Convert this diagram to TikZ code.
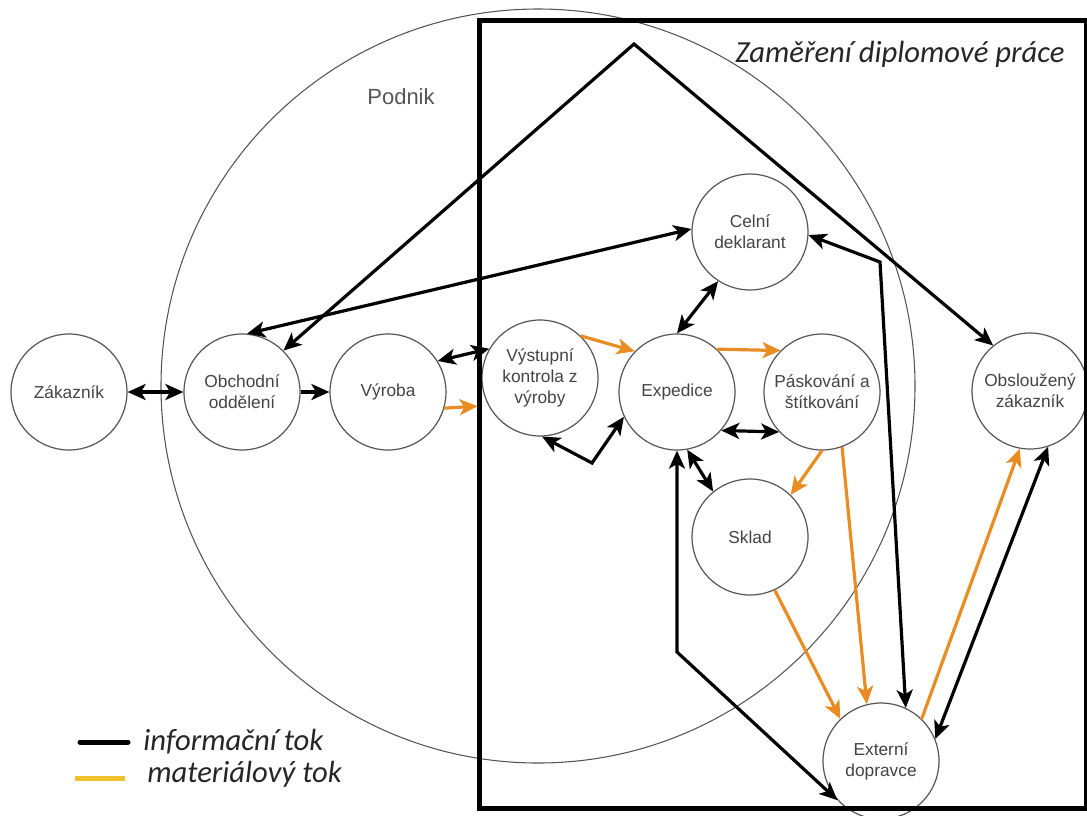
\documentclass[tikz,border=0pt]{standalone}
\usepackage{fontspec}
\setmainfont{Liberation Sans}
\newfontfamily\legendfont{Carlito}
\usetikzlibrary{arrows.meta}
\definecolor{flowor}{RGB}{232,140,35}
\definecolor{legyel}{RGB}{242,193,46}
\definecolor{txtgrey}{RGB}{68,68,68}
\definecolor{rimgrey}{RGB}{85,85,85}
\begin{document}
\begin{tikzpicture}[x=0.75pt,y=-0.75pt,
  >={Stealth[length=13.5pt,width=12pt,inset=3.5pt]},
  proc/.style={circle, draw=rimgrey, line width=0.9pt, fill=white,
    minimum size=87pt, inner sep=0pt, align=center, text=txtgrey,
    font=\fontsize{13}{15.75}\selectfont},
  info/.style={draw=black, line width=2.4pt},
  mat/.style={draw=flowor, line width=2.4pt},
  italabel/.style={anchor=base west, inner sep=0pt, text=black!85,
    font=\legendfont\itshape\fontsize{23}{26}\selectfont}]

\useasboundingbox (0,0) rectangle (1087,815);

% company boundary
\node[circle, draw=rimgrey, line width=0.8pt, minimum size=565.5pt, inner sep=0pt] (podnik) at (538,386) {};
\node[text=rimgrey, font=\fontsize{16.5}{18}\selectfont] (podniklabel) at (401,97) {Podnik};

% process nodes
\node[proc] (zak) at (69,392) {Zákazník};
\node[proc] (obch) at (242,392) {Obchodní\\oddělení};
\node[proc] (vyr) at (388,392) {Výroba};
\node[proc] (vyst) at (540,378) {Výstupní\\kontrola z\\výroby};
\node[proc] (exp) at (677,392) {Expedice};
\node[proc] (pask) at (822,392) {Páskování a\\štítkování};
\node[proc] (obsl) at (1030,391) {Obsloužený\\zákazník};
\node[proc] (celni) at (750,232) {Celní\\deklarant};
\node[proc] (sklad) at (750,537) {Sklad};
\node[proc] (ext) at (881,761) {Externí\\dopravce};

% scope of the thesis
\draw[line width=3.75pt] (479,20) rectangle (1086,808);
\node[italabel] (focus) at (735,62) {Zaměření diplomové práce};

% bend points
\coordinate (apex) at (634,44);
\coordinate (celnibend) at (880,262);
\coordinate (vystbend) at (592,463);
\coordinate (extbend) at (677,652);

% information flow
\draw[info,<->] (zak) -- (obch);
\draw[info,->] (obch) -- (vyr);
\draw[info,<->] (vyr.32) -- (vyst.150);
\draw[info,<->] (obch.45) -- (apex) -- (obsl.129);
\draw[info,<->] (obch.85) -- (celni.177);
\draw[info,<->] (celni.-123) -- (exp.90);
\draw[info,<->] (celni.-3) -- (celnibend) -- (ext.65);
\draw[info,<->] (vyst.-88) -- (vystbend) -- (exp.205);
\draw[info,<->] (exp.-41) -- (pask.-137);
\draw[info,<->] (exp.-80) -- (sklad.129);
\draw[info,<->] (ext.-138) -- (extbend) -- (exp.-90);
\draw[info,<->] (ext.22) -- (obsl.-72);

% material flow
\draw[mat,->,shorten >=8pt] (vyr.-16) -- (vyst.208);
\draw[mat,->] (vyst.46) -- (exp.136);
\draw[mat,->] (exp.47) -- (pask.135);
\draw[mat,->] (pask.-90) -- (sklad.46);
\draw[mat,->] (pask.-70) -- (ext.104);
\draw[mat,->] (sklad.-65) -- (ext.134);
\draw[mat,->] (ext.46) -- (obsl.-100);

% legend
\draw[line width=3.75pt, line cap=round] (80,742) coordinate (infoa) -- (128,742) coordinate (infob);
\draw[legyel, line width=3.75pt] (75,778) coordinate (mata) -- (125,778) coordinate (matb);
\node[italabel] (leginfo) at (143,750) {informační tok};
\node[italabel] (legmat) at (147,782) {materiálový tok};
\end{tikzpicture}
\end{document}
